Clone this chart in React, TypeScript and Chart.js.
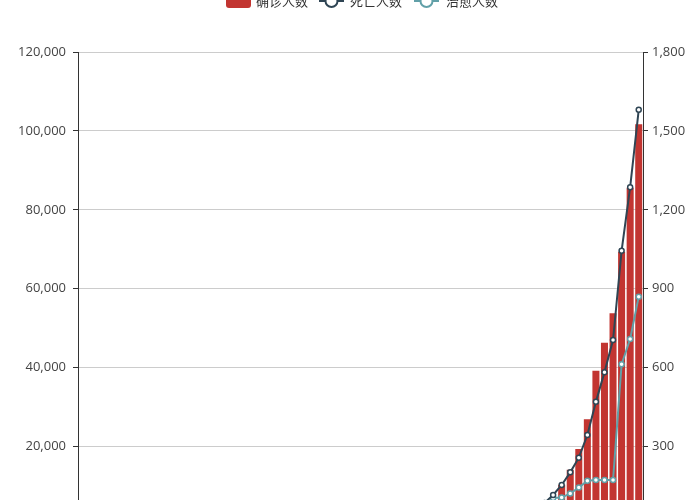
import React, { useEffect, useRef } from "react";
import { Chart, registerables } from "chart.js";

Chart.register(...registerables);

// ---- data ----
const startDate = new Date(2020, 0, 22);
const categories: string[] = Array.from({ length: 66 }, (_, i) => {
  const d = new Date(startDate.getTime() + i * 86400000);
  return `${d.getMonth() + 1}/${d.getDate()}`;
});

const confirmed: number[] = [
  1, 1, 2, 2, 5, 5, 5, 5, 5, 6,
  8, 8, 11, 11, 12, 12, 12, 12, 12, 12,
  13, 13, 14, 14, 14, 14, 14, 14, 14, 14,
  35, 35, 35, 53, 53, 59, 60, 62, 70, 76,
  101, 122, 153, 221, 319, 435, 541, 704, 994, 1301,
  1630, 2183, 2770, 3613, 4596, 6344,
  10300, 14100, 19400, 26900, 39200, 46300, 53800, 69400, 85600, 101700,
];

const deaths: number[] = [
  0, 0, 0, 0, 0, 0, 0, 0, 0, 0,
  0, 0, 0, 0, 0, 0, 0, 0, 0, 0,
  0, 0, 0, 0, 0, 0, 0, 0, 0, 0,
  0, 0, 0, 0, 0, 0, 0, 0, 1, 1,
  6, 9, 11, 12, 15, 19, 22, 26, 30, 38,
  41, 48, 57, 68, 86, 116,
  154, 202, 258, 344, 470, 583, 705, 1044, 1286, 1580,
];

const recovered: number[] = [
  0, 0, 0, 0, 0, 0, 0, 0, 0, 0,
  0, 0, 0, 0, 0, 0, 0, 1, 3, 3,
  3, 3, 3, 3, 3, 3, 3, 3, 3, 3,
  5, 5, 5, 5, 5, 5, 5, 5, 7, 7,
  7, 7, 7, 7, 7, 7, 7, 8, 8, 8,
  12, 12, 12, 12, 17, 105,
  106, 122, 144, 170, 173, 173, 173, 613, 709, 870,
];

const leftTicks: number[] = [0, 20000, 40000, 60000, 80000, 100000, 120000];
const rightTicks: number[] = [0, 300, 600, 900, 1200, 1500, 1800];

const legendNames: string[] = ["确诊人数", "死亡人数", "治愈人数"];
const seriesColors: string[] = ["#c23531", "#2f4554", "#61a0a8"];

const fmt = (v: number) => Number(v).toLocaleString("en-US");

const legendPlugin = {
  id: "customLegend",
  afterDraw(chart: any) {
    const ctx = chart.ctx;
    ctx.save();
    const cy = 21;
    const iconX = [226, 319, 414];
    const textX = [256, 350, 446];
    // bar icon
    ctx.fillStyle = seriesColors[0];
    ctx.beginPath();
    (ctx as any).roundRect
      ? (ctx as any).roundRect(iconX[0], cy - 7, 25, 14, 3)
      : ctx.rect(iconX[0], cy - 7, 25, 14);
    ctx.fill();
    // line icons
    for (let k = 1; k < 3; k++) {
      ctx.strokeStyle = seriesColors[k];
      ctx.lineWidth = 2;
      ctx.beginPath();
      ctx.moveTo(iconX[k], cy);
      ctx.lineTo(iconX[k] + 25, cy);
      ctx.stroke();
      ctx.beginPath();
      ctx.arc(iconX[k] + 12.5, cy, 6, 0, Math.PI * 2);
      ctx.fillStyle = "#ffffff";
      ctx.fill();
      ctx.stroke();
    }
    ctx.fillStyle = "#333333";
    ctx.font = '13px "Noto Sans CJK SC", sans-serif';
    ctx.textBaseline = "middle";
    ctx.textAlign = "left";
    for (let k = 0; k < 3; k++) ctx.fillText(legendNames[k], textX[k], cy);
    ctx.restore();
  },
};

export default function App() {
  const ref = useRef<HTMLCanvasElement | null>(null);

  useEffect(() => {
    if (!ref.current) return;
    const tickFont = { family: '"Open Sans", sans-serif', size: 13 };
    const chart = new Chart(ref.current, {
      type: "bar",
      data: {
        labels: categories,
        datasets: [
          {
            type: "line",
            label: legendNames[1],
            data: deaths,
            yAxisID: "y1",
            borderColor: seriesColors[1],
            backgroundColor: "#ffffff",
            borderWidth: 2,
            pointRadius: 2.5,
            pointBorderWidth: 1.5,
            pointBackgroundColor: "#ffffff",
            pointBorderColor: seriesColors[1],
            tension: 0,
            order: 0,
          } as any,
          {
            type: "line",
            label: legendNames[2],
            data: recovered,
            yAxisID: "y1",
            borderColor: seriesColors[2],
            backgroundColor: "#ffffff",
            borderWidth: 2,
            pointRadius: 2.5,
            pointBorderWidth: 1.5,
            pointBackgroundColor: "#ffffff",
            pointBorderColor: seriesColors[2],
            tension: 0,
            order: 1,
          } as any,
          {
            type: "bar",
            label: legendNames[0],
            data: confirmed,
            yAxisID: "y",
            backgroundColor: seriesColors[0],
            barPercentage: 0.82,
            categoryPercentage: 1,
            order: 2,
          } as any,
        ],
      },
      options: {
        responsive: false,
        animation: false,
        layout: { padding: { top: 72, left: 0, right: 0, bottom: 0 } },
        plugins: {
          legend: { display: false },
          tooltip: { enabled: false },
        },
        scales: {
          x: {
            offset: true,
            grid: { display: false },
            border: { display: true, color: "#333" },
            ticks: { font: tickFont, color: "#444", maxRotation: 0, autoSkip: true },
            afterFit: (s: any) => {
              s.height = 54.5;
            },
          },
          y: {
            position: "left",
            min: 0,
            max: 120000,
            afterBuildTicks: (s: any) => {
              s.ticks = leftTicks.map((v) => ({ value: v }));
            },
            ticks: {
              font: tickFont,
              color: "#444",
              padding: 7,
              callback: (v: any) => fmt(v),
            },
            grid: { color: "#cccccc", tickLength: 5, tickColor: "#333", lineWidth: 1 },
            border: { display: true, color: "#333", width: 1 },
            afterFit: (s: any) => {
              s.width = 78;
            },
          },
          y1: {
            position: "right",
            min: 0,
            max: 1800,
            afterBuildTicks: (s: any) => {
              s.ticks = rightTicks.map((v) => ({ value: v }));
            },
            ticks: {
              font: tickFont,
              color: "#444",
              padding: 4,
              callback: (v: any) => fmt(v),
            },
            grid: { drawOnChartArea: false, tickLength: 5, tickColor: "#333" },
            border: { display: true, color: "#333", width: 1 },
            afterFit: (s: any) => {
              s.width = 57;
            },
          },
        },
      },
      plugins: [legendPlugin],
    } as any);
    return () => chart.destroy();
  }, []);

  return (
    <div
      style={{
        position: "fixed",
        left: 0,
        top: 0,
        width: 700,
        height: 500,
        overflow: "hidden",
        background: "#ffffff",
      }}
    >
      <canvas
        ref={ref}
        width={700}
        height={600}
        style={{ position: "absolute", left: 0, top: -20, width: 700, height: 600 }}
      />
    </div>
  );
}
